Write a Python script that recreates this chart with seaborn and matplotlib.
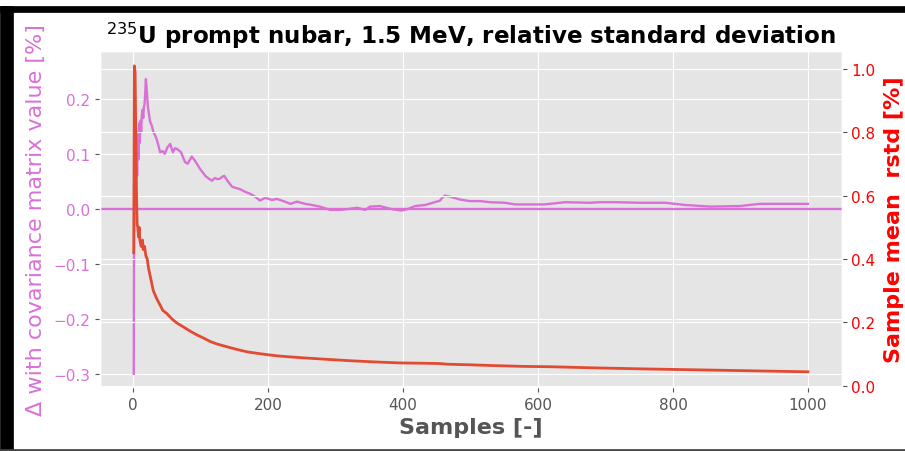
import matplotlib
matplotlib.use('Agg')
import matplotlib.pyplot as plt
from matplotlib.patches import Rectangle
import seaborn as sns

# ---- data
pink_x = [1, 2, 3, 4, 5, 6, 7, 8, 9, 10,
          11, 12, 13, 14, 15, 16, 17, 18, 19, 20,
          22, 25, 28, 30, 34, 37, 40, 44, 47, 51,
          55, 59, 62, 65, 71, 77, 81, 87, 92, 99,
          107, 112, 117, 121, 125, 129, 132, 135, 141, 147,
          152, 158, 166, 174, 181, 188, 196, 206, 213, 225,
          233, 243, 255, 265, 277, 292, 307, 321, 332, 344,
          351, 366, 381, 396, 403, 418, 433, 447, 455, 458,
          462, 470, 484, 499, 514, 529, 551, 566, 588, 610,
          640, 677, 692, 714, 751, 766, 788, 818, 855, 899,
          929, 973, 1000]
pink_y = [-0.30, 0.25, 0.10, 0.05, 0.12, 0.06, 0.14, 0.09, 0.155, 0.12,
          0.16, 0.14, 0.17, 0.18, 0.165, 0.185, 0.19, 0.21, 0.236, 0.22,
          0.185, 0.16, 0.15, 0.14, 0.13, 0.118, 0.103, 0.105, 0.10, 0.112,
          0.118, 0.103, 0.11, 0.109, 0.103, 0.085, 0.082, 0.095, 0.087, 0.073,
          0.06, 0.055, 0.051, 0.056, 0.054, 0.055, 0.058, 0.06, 0.049, 0.04,
          0.038, 0.036, 0.031, 0.027, 0.022, 0.015, 0.02, 0.016, 0.018, 0.013,
          0.009, 0.013, 0.009, 0.007, 0.004, -0.002, -0.002, 0.0, 0.002, -0.002,
          0.004, 0.005, 0.0, -0.003, -0.002, 0.005, 0.007, 0.012, 0.015, 0.02,
          0.024, 0.022, 0.017, 0.014, 0.014, 0.012, 0.011, 0.008, 0.008, 0.008,
          0.012, 0.011, 0.012, 0.012, 0.011, 0.011, 0.011, 0.007, 0.004, 0.005,
          0.009, 0.009, 0.009]

red_x = [1, 2, 3, 4, 5, 6, 7, 8, 9, 10,
         11, 12, 14, 15, 17, 19, 21, 23, 25, 28,
         30, 35, 40, 44, 50, 58, 65, 75, 84, 95,
         104, 114, 124, 139, 155, 169, 185, 199, 215, 233,
         260, 290, 321, 360, 395, 430, 455, 465, 500, 544,
         580, 618, 692, 760, 840, 920, 1000]
red_y = [0.42, 1.01, 0.99, 0.80, 0.62, 0.51, 0.50, 0.47, 0.50, 0.46,
         0.45, 0.44, 0.46, 0.43, 0.44, 0.41, 0.40, 0.37, 0.35, 0.32,
         0.30, 0.275, 0.255, 0.238, 0.228, 0.21, 0.198, 0.185, 0.173, 0.16,
         0.151, 0.14, 0.132, 0.123, 0.114, 0.107, 0.102, 0.098, 0.094, 0.091,
         0.087, 0.083, 0.079, 0.075, 0.072, 0.071, 0.070, 0.068, 0.066, 0.063,
         0.061, 0.060, 0.056, 0.053, 0.050, 0.047, 0.044]

# ---- estilo
plt.style.use('ggplot')

fig = plt.figure(figsize=(9.05, 4.52), dpi=100)
ax = fig.add_axes([0.1105, 0.1416, 0.8195, 0.7434])

sns.lineplot(x=pink_x, y=pink_y, ax=ax, color='orchid', linewidth=1.7)
ax.axhline(0, color='orchid', linewidth=1.7)
ax.set_ylim(-0.324, 0.287)
ax.set_xlim(-49, 1050)
ax.set_xticks([0, 200, 400, 600, 800, 1000])
ax.set_yticks([-0.3, -0.2, -0.1, 0.0, 0.1, 0.2])
ax.set_ylabel('Δ with covariance matrix value [%]', color='orchid', fontsize=16,
              labelpad=5)
ax.set_xlabel('Samples [-]', fontsize=16, fontweight='bold', color='#555555')
ax.tick_params(axis='y', labelcolor='orchid', labelsize=11)
ax.tick_params(axis='x', labelsize=11)
ax.set_title('$^{235}$U prompt nubar, 1.5 MeV, relative standard deviation',
             fontsize=16.6, fontweight='bold', color='black')

ax2 = ax.twinx()
sns.lineplot(x=red_x, y=red_y, ax=ax2, color='#E24A33', linewidth=2)
ax2.set_ylim(-0.004, 1.057)
ax2.set_yticks([0.0, 0.2, 0.4, 0.6, 0.8, 1.0])
ax2.set_ylabel('Sample mean  rstd [%]', color='red', fontsize=16, fontweight='bold',
               labelpad=6)
ax2.tick_params(axis='y', labelcolor='red', labelsize=11)

# moldura da captura
fig.patches.append(Rectangle((0, 0), 13 / 905, 445 / 452, transform=fig.transFigure,
                             color='black', zorder=10))
fig.patches.append(Rectangle((0, 439 / 452), 1, 6 / 452, transform=fig.transFigure,
                             color='black', zorder=10))
fig.patches.append(Rectangle((0, 0), 1, 2 / 452, transform=fig.transFigure,
                             color='#444444', zorder=10))

fig.savefig('out.png', dpi=100)
